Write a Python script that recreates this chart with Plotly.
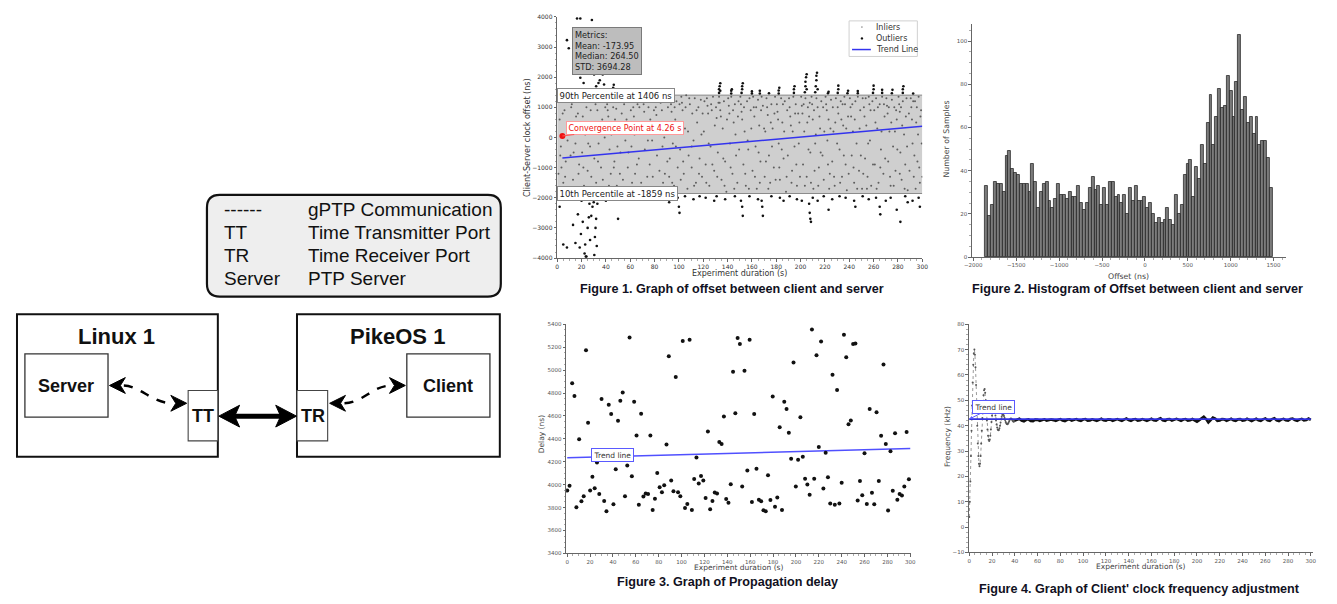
import plotly.graph_objects as go

# The page body keeps an 8px margin, so the figure is sized to fit inside it.
OFF = 8
W, H = 1337 - 2 * OFF, 604 - 2 * OFF


def X(px):
    return (px - OFF) / W


def Y(py):
    return 1 - (py - OFF) / H


# ---------------- Figure 1 data: clock offset (ns) ----------------
inlier_points = [
    (1, -1200), (2, 600), (3, -300), (3.5, -1000), (5, -1500), (6, 900), (7, -800), (8, 300), (9, -1700), (9.5, 1200),
    (10.5, 400), (11, -600), (12, 1100), (13, -1400), (14, 200), (15, -200), (16, -1800), (17, 800), (18, -900), (19, 1300),
    (20.5, -500), (21, 700), (22, -1600), (23, 100), (24, 1000), (25, -1100), (26, 500), (27, -300), (28, -1300), (29, 1200),
    (30.5, -700), (31, 300), (32, -1500), (33, 900), (34, -200), (35, 1300), (36, -1000), (37, 600), (38, -1700), (39, 0),
    (40.5, 1350), (41, 1100), (41.5, 900), (42, 700), (43, -400), (44, -1200), (45, 400), (46, 1000), (47, -800), (48, 1200), (48.5, 950), (49, -1600),
    (50.5, 200), (51, 1300), (52, -500), (53, 800), (54, -1400), (55, 1100), (56, -100), (57, 600), (58, -1000), (59, 1250), (59.5, -1800),
    (60.5, 900), (61, -300), (62, 1300), (62.5, 1000), (63, 700), (64, -1200), (65, 200), (66, 1100), (67, -700), (68, 500), (69, -1500),
    (70.5, 1350), (71, 1100), (71.5, 850), (72, -400), (73, 300), (74, -1300), (75, 1000), (76, -900), (77, 1200), (78, -100), (79, -1700),
    (80.5, 1300), (81, 1000), (81.5, 750), (82, -600), (83, 400), (84, -1100), (85, 1150), (86, 900), (87, -1500), (88, 0), (89, 1250),
    (90.5, -800), (91, 1000), (92, -1300), (93, 1300), (93.5, 1100), (94, 850), (95, -200), (96, -1600), (97, 600), (98, 1200), (99, -1000),
    (100.5, 1100), (101, -400), (102, 1350), (102.5, 1150), (103, 900), (104, -1200), (105, 300), (106, 1400), (107, -1700), (108, -600), (109, 1100),
    (110.5, -1000), (111, 800), (112, -100), (113, 1300), (114, -1500), (115, 500), (116, 1000), (117, -700), (118, 1250), (119, -1300),
    (120.5, 200), (121, 1200), (122, -900), (123, 1300), (123.5, 1050), (124, 800), (125, -1600), (126, -300), (127, 900), (128, 1350), (129, -1100),
    (130.5, 1000), (131, 650), (132, -500), (133, 1350), (133.5, 1150), (134, 900), (134.5, 700), (135, -1400), (136, 300), (137, 1200), (138, -800), (139, -1800),
    (140.5, 1300), (141, 1050), (141.5, 800), (142, -200), (143, 1350), (144, -1200), (145, 500), (146, 1100), (147, -600), (148, -1500), (149, 1200),
    (150.5, 1350), (151, 1100), (151.5, 850), (152, 600), (153, -900), (154, 200), (155, -1600), (156, 1200), (157, -400), (158, 1300), (159, 900),
    (160.5, -1100), (161, 1350), (161.5, 1000), (162, 700), (163, -300), (164, -1700), (165, 1250), (166, 400), (167, -800), (168, 1350), (169, 1050),
    (170.5, -1300), (171, 200), (172, 1300), (172.5, 1000), (173, 750), (174, -600), (175, -1500), (176, 1100), (177, 300), (178, -1000), (179, 1350),
    (180.5, 1100), (181, 850), (182, -200), (183, -1400), (184, 1300), (185, 500), (186, -700), (187, 1200), (188, -1800), (189, 900),
    (190.5, 1300), (191, 1000), (191.5, 700), (192, 400), (193, -1100), (194, 1350), (195, -300), (196, 1100), (197, -1600), (198, 800), (199, 500),
    (200.5, 1350), (201, 1050), (201.5, 800), (202, -900), (203, 200), (204, 1300), (205, -1300), (206, 1000), (207, 700), (208, -500), (209, 1350), (209.5, 1100),
    (210.5, -1700), (211, 900), (212, -200), (213, 1300), (214, 1000), (215, -1000), (216, 300), (217, 1200), (218, -600), (219, -1400),
    (220.5, 1350), (221, 1100), (221.5, 900), (222, -100), (223, 600), (224, -1200), (225, 1250), (226, -800), (227, 200), (228, -1600), (229, 1300),
    (230.5, 1000), (231, 800), (232, -400), (233, 1200), (234, -1300), (235, 400), (236, 1350), (236.5, 1100), (237, -900), (238, -1750), (239, 700),
    (240.5, 1300), (241, 1000), (241.5, 700), (242, -600), (243, 200), (244, -1500), (245, 1200), (246, -200), (247, 1350), (248, -1100), (249, 900),
    (250.5, -1700), (251, 1300), (252, 1000), (253, -700), (254, 400), (255, -1300), (256, 1350), (256.5, 1100), (257, -100), (258, -1600), (259, 1200),
    (260.5, 900), (261, -900), (262, 1300), (263, 300), (264, -1500), (265, 1100), (266, -400), (267, 1350), (268, -1200), (269, 700),
    (270.5, 1300), (271, 1050), (271.5, 800), (272, -800), (273, 200), (274, -1600), (275, 1250), (276, -300), (277, 1000), (278, -1100), (279, 600),
    (280.5, 1350), (281, 1100), (281.5, 850), (282, -500), (283, -1400), (284, 1200), (285, 100), (286, -900), (287, 1300), (288, -1750), (289, 800),
    (290.5, 1300), (291, 1000), (292, -200), (293, -1300), (294, 1200), (295, 500), (296, -800), (297, 1350), (298, -1500), (299, 900), (299.5, -200),
    (2.5, -600), (4.5, 800), (6.5, -1300), (8.5, -100), (11.5, 1000), (13.5, -500), (15.5, 700), (17.5, -1200), (19.5, 300), (21.5, -1000),
    (23.5, 1200), (25.5, -200), (27.5, 900), (29.5, -1700), (31.5, 1100), (33.5, -800), (35.5, 200), (37.5, -1400), (39.5, 1000), (42.5, -1600),
    (44.5, 100), (46.5, -1000), (47.5, 600), (49.5, -300), (51.5, -1200), (53.5, 300), (55.5, -1700), (57.5, 1200), (58.5, -500), (61.5, -1500),
    (63.5, 100), (65.5, -900), (67.5, 1000), (69.5, 300), (72.5, 1200), (74.5, -100), (76.5, 600), (78.5, -1300), (79.5, 900), (82.5, -1700),
    (84.5, 200), (86.5, -300), (88.5, -1200), (91.5, 500), (92.5, -700), (94.5, -1500), (96.5, 1000), (97.5, -300), (99.5, 300), (101.5, -1400),
    (103.5, -800), (105.5, 1000), (107.5, 200), (108.5, 1300), (110.5, -300), (112.5, -1600), (114.5, 900), (116.5, -1200), (118.5, 100), (119.5, 800),
    (122.5, -1500), (124.5, -200), (126.5, 1100), (127.5, -900), (129.5, 400), (131.5, -1300), (132.5, 1150), (136.5, -700), (137.5, -1600), (139.5, 600),
    (142.5, -1000), (144.5, 900), (145.5, -1700), (146.5, 100), (148.5, 700), (149.5, -400), (153.5, 1000), (154.5, -1200), (156.5, -100), (157.5, -1700),
    (159.5, 300), (162.5, -1300), (163.5, 1000), (165.5, -500), (166.5, -1500), (167.5, 900), (170, 300), (171.5, -800), (173.5, -1700), (175.5, 500),
    (176.5, -300), (178.5, 800), (179.5, -1400), (181.5, 600), (182.5, -1000), (184.5, -400), (185.5, 1100), (186.5, 200), (188.5, -1300), (189.5, -600),
    (192.5, -1500), (193.5, 200), (195.5, 800), (196.5, -900), (198.5, -200), (199.5, -1300), (202.5, 1100), (203.5, -1600), (205.5, 500), (206.5, -400),
    (207.5, 1150), (208.5, -1500), (210, 600), (211.5, -1100), (212.5, 100), (214.5, -1600), (215.5, 700), (216.5, -500), (218.5, 1000), (219.5, 200),
    (222.5, -900), (223.5, -1700), (224.5, 300), (226.5, 1000), (227.5, -1300), (228.5, 500), (230, -200), (232.5, -1500), (233.5, 600), (234.5, 1100),
    (235.5, -600), (237.5, 300), (239.5, -1200), (242.5, 1100), (243.5, -1000), (244.5, 600), (246.5, -1700), (248.5, 300), (249.5, -600), (251.5, -1200),
    (252.5, 700), (253.5, 1300), (254.5, -1700), (255.5, -200), (257.5, 900), (259.5, -900), (261.5, 500), (262.5, -1700), (263.5, 1000), (265.5, -1000),
    (266.5, 200), (268.5, 1100), (269.5, -700), (272.5, 1000), (273.5, -1300), (274.5, 500), (276.5, -1600), (277.5, 200), (278.5, 900), (279.5, -400),
    (281.5, -1200), (282.5, 1000), (283.5, 400), (285.5, -1700), (286.5, 700), (287.5, -300), (289.5, -1100), (291.5, 600), (292.5, 1200), (293.5, -600),
    (294.5, -1700), (295.5, 1000), (296.5, 100), (297.5, -1000), (298.5, 700), (300, -1300),
]

outlier_points = [
    (8, 3230), (9.5, 2960), (13.5, 2140), (16.3, 3950), (17.6, 2140), (19, 3950), (19, 1980), (21.7, 1810), (25.7, 2360),
    (27.6, 2140), (28.5, 3900), (29.3, 2630), (30.3, 2090), (33.9, 1810), (36, 2690), (36.6, 2410), (37.4, 2090), (38.5, 1760),
    (35, 1900), (31, 2400), (24, 2200), (32, 1700),
    (46, 1500), (46, 1650), (46.5, 1750),
    (133, 1480), (133, 1600), (133.5, 1700), (134, 1800), (134, 1550),
    (143, 1460), (143, 1550), (143.5, 1600),
    (151.5, 1480), (152, 1600), (152, 1700), (152.5, 1800),
    (160, 1460), (160, 1530), (166.5, 1460), (166.5, 1550), (174, 1470),
    (182, 1460), (182, 1560), (182.5, 1650),
    (194.5, 1480), (194.5, 1600), (195, 1700),
    (203.5, 1500), (204, 1700), (204, 1850), (204.5, 2000), (205, 2100), (205, 1600),
    (212, 1500), (212.5, 1700), (213, 1900), (213, 2050), (213.5, 2150), (214, 1600),
    (222.5, 1470), (223, 1520), (230.5, 1480), (231, 1600), (231, 1720),
    (238.5, 1470), (239, 1550), (247, 1470), (247, 1540),
    (259.5, 1480), (260, 1600), (260, 1720), (267, 1480), (267, 1580),
    (275, 1470), (275.5, 1580), (284, 1480), (284, 1600), (284.5, 1700), (292.5, 1460),
    (2, -2300), (5, -3550), (8, -3650), (13, -2900), (15, -3500), (17, -2550), (18.5, -3650), (19.5, -3200), (21, -2800),
    (22.5, -3850), (23, -3550), (24, -3950), (25, -3000), (26, -2650), (27, -3400), (29, -2300), (30, -2150), (31, -3300),
    (31.5, -3000), (32, -2700), (33, -2200), (34, -2000), (35, -1950), (36.5, -2050), (32.5, -3600), (30.5, -3900),
    (20, -2100), (26.5, -2200), (23.5, -3950), (28, -2600),
    (40, -2100), (42, -1950), (45, -2000), (50, -2700), (55, -1950), (60, -2050), (66, -1950), (72, -2000), (80, -1950),
    (86, -2050), (90, -1950), (92, -2150), (99, -2000), (100, -2300), (100.5, -2500), (105, -1950), (112, -2050),
    (117, -1950), (122, -2000), (129, -2100), (131, -1950), (138, -2050), (146, -1950), (151, -2100), (152, -2300),
    (152.5, -2600), (158, -1950), (165, -2050), (168, -2100), (168.5, -2300), (169, -2600), (176, -1950), (183, -2000),
    (186, -2100), (191, -1950), (197, -2050), (201, -2100), (207, -2200), (207.5, -2500), (208, -2700), (208.5, -2800),
    (210, -2000), (214, -2100), (219, -1950), (223, -2400), (226, -2050), (232, -1950), (237, -2000), (244, -2100),
    (245, -2300), (251, -1950), (256, -2050), (262, -2000), (265, -2300), (265.5, -2550), (270, -2100), (274, -2000),
    (279, -2400), (282, -2800), (286, -1950), (288, -2150), (292, -2100), (297, -2000), (298, -2300),
]

inlier_t = [p[0] for p in inlier_points]
inlier_ns = [p[1] for p in inlier_points]
outlier_t = [p[0] for p in outlier_points]
outlier_ns = [p[1] for p in outlier_points]

trend1_t = [4.26, 300]
trend1_ns = [-680, 370]
convergence_t = [4.26]
convergence_ns = [50]
p90 = 1406
p10 = -1859

# ---------------- Figure 2 data: histogram ----------------
hist_counts = [
    33, 19, 24, 35, 34, 34, 30, 47, 49, 41,
    39, 38, 34, 34, 34, 30, 43, 35, 23, 30,
    34, 35, 26, 23, 27, 34, 29, 29, 27, 30,
    28, 28, 33, 25, 22, 25, 32, 37, 31, 33,
    24, 32, 24, 35, 35, 28, 29, 25, 29, 20,
    32, 26, 33, 26, 26, 28, 23, 25, 20, 16,
    18, 16, 17, 23, 17, 15, 29, 20, 24, 38,
    43, 45, 28, 42, 36, 52, 43, 62, 75, 52,
    65, 78, 69, 70, 84, 77, 65, 81, 103, 68,
    74, 62, 65, 57, 65, 52, 54, 54, 46, 32,
]
hist_start = -1862
hist_bin = 33.5
hist_x = [hist_start + hist_bin * (i + 0.5) for i in range(len(hist_counts))]

# ---------------- Figure 3 data: propagation delay ----------------
delay_t = [0, 2, 4.3, 6.3, 8, 10.4, 12.4, 14.4, 16.4, 18.2,
           20, 22, 24, 26, 28, 30, 32.3, 34.3, 36.3, 38.4,
           40.4, 42.4, 44.4, 46.4, 48.5, 50.5, 52.5, 54.5, 56.5, 58.5,
           60.6, 62.6, 64.6, 66.6, 68.6, 70.7, 72.7, 74.7, 76.7, 78.7,
           80.8, 82.8, 84.8, 86.8, 88.8, 90.9, 92.9, 94.9, 96.9, 98.9,
           101, 103, 105, 107, 109, 111, 113, 115, 117, 119,
           121, 123, 125, 127, 129, 131, 133, 135, 137, 139,
           141, 143, 145, 147, 149, 151, 153, 155, 157.5, 159.5,
           161.5, 163.5, 165.5, 167.6, 169.6, 171.6, 173.6, 175.6, 177.7, 179.7,
           181.7, 183.7, 185.8, 187.8, 189.8, 191.8, 193.8, 195.8, 197.9, 199.9,
           201.9, 203.9, 206, 208, 210, 212, 214, 216, 218, 220,
           222, 224, 226, 228, 230, 232, 234, 236, 238, 240,
           242, 244, 246, 248, 250, 252, 254, 256, 258, 260,
           262, 264.5, 266.5, 268.5, 270.5, 272.5, 274.5, 276.6, 278.6, 280.6,
           282.7, 284.7, 286.7, 288.7, 290.7, 292.7, 294.8, 296.8, 298.8]
delay_ns = [3950, 3990, 4885, 4775, 3803, 4396, 3855, 3900, 5173, 4540,
            3950, 4070, 3970, 4194, 3920, 4747, 3857, 3768, 4698, 4617,
            3829, 4134, 4557, 4732, 4804, 3900, 4168, 5285, 4073, 4724,
            4430, 3826, 4620, 3898, 3924, 3918, 4430, 3780, 3877, 4102,
            3978, 3935, 3995, 4350, 5121, 4036, 3944, 4940, 3935, 3900,
            5253, 3797, 3832, 5265, 3780, 4050, 4237, 4010, 4076, 4036,
            3883, 4465, 3785, 3857, 3932, 3924, 4373, 4355, 4594, 3875,
            3843, 4004, 4986, 4623, 5279, 5227, 3984, 4994, 4125, 5265,
            3849, 4617, 4140, 3869, 3855, 3777, 3768, 4082, 3866, 4770,
            3808, 3889, 4502, 3780, 4724, 4660, 4453, 4226, 5066, 3984,
            4217, 4588, 4243, 4053, 4001, 3912, 5354, 4053, 5130, 4329,
            5250, 3967, 4278, 4064, 3837, 4960, 3826, 4827, 3837, 4018,
            5308, 5112, 4528, 4560, 5227, 5233, 3863, 4033, 3909, 4275,
            3832, 4660, 3929, 3829, 4632, 4033, 4427, 5049, 4355, 3774,
            4292, 3947, 4450, 3869, 3918, 3906, 3984, 4459, 4047]
trend3_t = [0, 300]
trend3_ns = [4235, 4315]

# ---------------- Figure 4 data: frequency adjustment ----------------
freq_early = [4, 10, 18, 28, 38, 48, 57, 64, 68.5, 70,
              68, 63, 56, 48, 40, 33, 28, 25, 24, 25,
              28, 33, 38, 43, 48, 52, 54, 54.5, 53, 50,
              46, 42, 38.5, 36, 34.5, 34, 34.5, 36, 38.5, 41.5,
              44, 46, 47.5, 48, 47.5, 46, 44, 42, 40.5, 39.3,
              38.5, 38.2, 38.3, 39, 40, 41.3, 42.5, 43.5, 44.2, 44.5,
              44.3, 43.8, 43, 42.2, 41.5, 41, 40.7, 40.6, 40.8, 41.2,
              41.7, 42.2, 42.6, 42.8, 42.7, 42.4, 42, 41.7, 41.6, 41.7,
              42]
freq_late = [42.3, 42.7, 42.0, 41.7, 42.3, 42.5, 41.9, 41.8, 42.4, 42.3,
             41.9, 42.2, 42.5, 42.0, 42.1, 42.4, 42.2, 41.9, 42.3, 42.6,
             42.0, 41.8, 42.3, 42.5, 42.0, 42.2, 42.6, 42.1, 41.9, 42.4,
             42.6, 42.0, 42.1, 42.5, 42.3, 41.9, 42.3, 42.7, 42.1, 42.0,
             42.5, 42.4, 41.9, 42.2, 42.6, 42.2, 41.9, 42.4, 42.8, 42.2,
             41.9, 42.4, 42.6, 42.0, 42.1, 42.6, 42.4, 41.9, 42.3, 42.7,
             42.1, 42.0, 42.6, 42.9, 42.1, 41.9, 42.5, 42.6, 42.0, 42.2,
             42.7, 42.3, 41.9, 42.4, 42.6, 42.0, 42.1, 42.6, 42.2, 41.6,
             42.2, 43.0, 43.5, 42.6, 41.3, 42.2, 43.2, 42.8, 41.9, 42.0,
             42.6, 42.5, 41.9, 42.3, 42.7, 42.1, 41.9, 42.5, 42.6, 42.0,
             42.1, 42.7, 42.3, 41.8, 42.3, 42.7, 42.1, 41.9, 42.5, 42.8,
             42.1, 41.9, 42.6, 42.9, 42.1, 41.8, 42.4, 42.7, 42.1, 42.0,
             42.6, 42.8, 42.2, 41.9, 42.4, 42.7, 42.1, 42.2, 42.8, 42.3]
freq_t_early = [i * 0.5 for i in range(len(freq_early))]
freq_t_late = [40] + [42 + 2 * i for i in range(len(freq_late))]
trend4_t = [0, 300]
trend4_khz = [42.6, 42.6]

# ---------------- text ----------------
captions = [
    "Figure 1. Graph of offset between client and server",
    "Figure 2. Histogram of Offset between client and server",
    "Figure 3. Graph of Propagation delay",
    "Figure 4. Graph of Client' clock frequency adjustment",
]
legend_keys = ["------", "TT", "TR", "Server"]
legend_desc = ["gPTP Communication", "Time Transmitter Port", "Time Receiver Port", "PTP Server"]

PF = "DejaVu Sans"
CF = "Liberation Sans"

fig = go.Figure()

# Figure 1 traces
fig.add_trace(go.Scatter(x=inlier_t, y=inlier_ns, mode="markers", xaxis="x", yaxis="y",
                         marker=dict(size=2, color="#5e5e5e"), showlegend=False, hoverinfo="skip"))
fig.add_trace(go.Scatter(x=outlier_t, y=outlier_ns, mode="markers", xaxis="x", yaxis="y",
                         marker=dict(size=2.6, color="#111111"), showlegend=False, hoverinfo="skip"))
fig.add_trace(go.Scatter(x=trend1_t, y=trend1_ns, mode="lines", xaxis="x", yaxis="y",
                         line=dict(color="#3333ee", width=1.5), showlegend=False))
fig.add_trace(go.Scatter(x=convergence_t, y=convergence_ns, mode="markers", xaxis="x", yaxis="y",
                         marker=dict(size=6, color="#ee1111"), showlegend=False))

# Figure 2
fig.add_trace(go.Bar(x=hist_x, y=hist_counts, width=hist_bin, xaxis="x2", yaxis="y2",
                     marker=dict(color="#7c7c7c", line=dict(color="#1a1a1a", width=0.7)), showlegend=False))

# Figure 3
fig.add_trace(go.Scatter(x=trend3_t, y=trend3_ns, mode="lines", xaxis="x3", yaxis="y3",
                         line=dict(color="#5050ff", width=1.5), showlegend=False))
fig.add_trace(go.Scatter(x=delay_t, y=delay_ns, mode="markers", xaxis="x3", yaxis="y3",
                         marker=dict(size=4, color="#111111"), showlegend=False))

# Figure 4
fig.add_trace(go.Scatter(x=freq_t_early, y=freq_early, mode="lines+markers", xaxis="x4", yaxis="y4",
                         line=dict(color="#9a9a9a", width=1, dash="dot"),
                         marker=dict(size=2, color="#555555"), showlegend=False))
fig.add_trace(go.Scatter(x=freq_t_late, y=[freq_early[-1]] + freq_late, mode="lines", xaxis="x4", yaxis="y4",
                         line=dict(color="#111111", width=2.6), showlegend=False))
fig.add_trace(go.Scatter(x=trend4_t, y=trend4_khz, mode="lines", xaxis="x4", yaxis="y4",
                         line=dict(color="#3030e0", width=1.6), showlegend=False))


def axis(dom, rng, dtick, fs, color="#333", tick0=None):
    d = dict(domain=dom, range=rng, dtick=dtick, showline=True, linecolor="#666", linewidth=1,
             ticks="outside", ticklen=2.5, tickwidth=0.8, tickcolor="#666", showgrid=False, zeroline=False,
             tickfont=dict(family=PF, size=fs, color=color),
             minor=dict(ticks="outside", ticklen=1.5, tickcolor="#aaa", showgrid=False))
    if tick0 is not None:
        d["tick0"] = tick0
    return d


fig.update_layout(
    width=W, height=H, margin=dict(l=0, r=0, t=0, b=0),
    paper_bgcolor="white", plot_bgcolor="white", showlegend=False,
    xaxis=dict(axis([X(555), X(924)], [0, 300], 20, 6), anchor="y"),
    yaxis=dict(axis([Y(257), Y(13)], [-4000, 4000], 1000, 6), anchor="x"),
    xaxis2=dict(axis([X(974), X(1292)], [-2018, 1649], 500, 5.5, "#555", 0), anchor="y2"),
    yaxis2=dict(axis([Y(256), Y(20)], [0, 108], 20, 5.5, "#555"), anchor="x2"),
    xaxis3=dict(axis([X(564), X(913)], [-1, 301], 20, 5.5, "#555"), anchor="y3"),
    yaxis3=dict(axis([Y(556), Y(324)], [3400, 5400], 200, 5.5, "#555"), anchor="x3"),
    xaxis4=dict(axis([X(971), X(1319)], [-0.4, 302], 20, 5.5, "#555"), anchor="y4"),
    yaxis4=dict(axis([Y(555), Y(324)], [-10, 80], 10, 5.5, "#555"), anchor="x4"),
    bargap=0,
)

shapes = []
ann = []

# Figure 1 band
shapes.append(dict(type="rect", xref="x", yref="y", x0=0, x1=300, y0=p10, y1=p90,
                   fillcolor="#cfcfcf", line=dict(width=0), layer="below"))
for yv in (p90, p10):
    shapes.append(dict(type="line", xref="x", yref="y", x0=0, x1=300, y0=yv, y1=yv,
                       line=dict(color="#8c8c8c", width=1), layer="below"))

ann.append(dict(xref="paper", yref="y", x=X(555), y=p90, xanchor="left", yanchor="middle",
                text="90th Percentile at 1406 ns", showarrow=False, bgcolor="white",
                bordercolor="#888", borderwidth=1, borderpad=1.5, font=dict(family=PF, size=8.5, color="#222")))
ann.append(dict(xref="paper", yref="y", x=X(555), y=p10, xanchor="left", yanchor="middle",
                text="10th Percentile at -1859 ns", showarrow=False, bgcolor="white",
                bordercolor="#888", borderwidth=1, borderpad=1.5, font=dict(family=PF, size=8.5, color="#222")))
ann.append(dict(xref="paper", yref="paper", x=X(570), y=Y(23), xanchor="left", yanchor="top", align="left",
                text="Metrics:<br>Mean: -173.95<br>Median: 264.50<br>STD: 3694.28", showarrow=False,
                bgcolor="#bdbdbd", bordercolor="#7a7a7a", borderwidth=1, borderpad=2,
                font=dict(family=PF, size=8.2, color="#222")))
ann.append(dict(xref="x", yref="y", x=convergence_t[0], y=convergence_ns[0], ax=63, ay=-8,
                text="Convergence Point at 4.26 s", showarrow=True, arrowhead=0, arrowwidth=1.2,
                arrowcolor="#ff5555", bgcolor="white", bordercolor="#ff9a9a", borderwidth=1, borderpad=1.5,
                font=dict(family=PF, size=8, color="#ee1111")))

# Figure 1 legend (manual)
shapes.append(dict(type="rect", xref="paper", yref="paper", x0=X(850), x1=X(919), y0=Y(53), y1=Y(17),
                   fillcolor="white", line=dict(color="#d0d0d0", width=1)))
shapes.append(dict(type="circle", xref="paper", yref="paper", x0=X(862.2), x1=X(863.8), y0=Y(24.1), y1=Y(22.5),
                   fillcolor="#888", line=dict(width=0)))
shapes.append(dict(type="circle", xref="paper", yref="paper", x0=X(861.8), x1=X(864.2), y0=Y(35.9), y1=Y(33.5),
                   fillcolor="#111", line=dict(width=0)))
shapes.append(dict(type="line", xref="paper", yref="paper", x0=X(853), x1=X(872), y0=Y(46), y1=Y(46),
                   line=dict(color="#3333ee", width=1.5)))
for txt, yy in (("Inliers", 23.3), ("Outliers", 34.7), ("Trend Line", 46)):
    ann.append(dict(xref="paper", yref="paper", x=X(875), y=Y(yy), xanchor="left", yanchor="middle",
                    text=txt, showarrow=False, font=dict(family=PF, size=8, color="#333")))

# Figure 3 / 4 trend annotations
ann.append(dict(xref="x3", yref="y3", x=40, y=4262, text="Trend line", showarrow=False,
                bgcolor="white", bordercolor="#5a5aff", borderwidth=1, borderpad=1.5,
                font=dict(family=PF, size=7.5, color="#333")))
ann.append(dict(xref="x4", yref="y4", x=0, y=42.6, ax=24, ay=-12, text="Trend line", showarrow=True,
                arrowhead=2, arrowsize=0.7, arrowwidth=1, arrowcolor="#5a5aff",
                bgcolor="white", bordercolor="#5a5aff", borderwidth=1, borderpad=1.5,
                font=dict(family=PF, size=7.5, color="#333")))


# axis titles
def atitle(x, y, text, rot=0, size=8, color="#333"):
    ann.append(dict(xref="paper", yref="paper", x=X(x), y=Y(y), text=text, showarrow=False,
                    textangle=rot, xanchor="center", yanchor="middle",
                    font=dict(family=PF, size=size, color=color)))


atitle(525, 135, "Client-Server clock offset (ns)", -90)
atitle(739, 272.5, "Experiment duration (s)")
atitle(948, 137, "Number of Samples", -90, 7.8, "#444")
atitle(1132, 275.5, "Offset (ns)", 0, 7.8, "#444")
atitle(540, 435, "Delay (ns)", -90, 7.5, "#444")
atitle(738, 570, "Experiment duration (s)", 0, 7.5, "#444")
atitle(950, 438, "Frequency (kHz)", -90, 7.5, "#444")
atitle(1145, 569.5, "Experiment duration (s)", 0, 7.5, "#444")

# captions
for (cx, cy), txt in zip([(732, 288), (1142, 288), (727.5, 585), (1144, 591.5)], captions):
    ann.append(dict(xref="paper", yref="paper", x=X(cx), y=Y(cy), text="<b>" + txt + "</b>",
                    showarrow=False, xanchor="center", yanchor="middle",
                    font=dict(family=CF, size=12.6, color="#111122")))


# ---------------- diagram ----------------
def pt(x, y):
    return f"{X(x):.6f},{Y(y):.6f}"


def poly(points):
    return "M " + " L ".join(pt(x, y) for x, y in points) + " Z"


def rrect(x0, y0, x1, y1, r):
    return ("M " + pt(x0 + r, y0) + " L " + pt(x1 - r, y0) + " Q " + pt(x1, y0) + " " + pt(x1, y0 + r) +
            " L " + pt(x1, y1 - r) + " Q " + pt(x1, y1) + " " + pt(x1 - r, y1) +
            " L " + pt(x0 + r, y1) + " Q " + pt(x0, y1) + " " + pt(x0, y1 - r) +
            " L " + pt(x0, y0 + r) + " Q " + pt(x0, y0) + " " + pt(x0 + r, y0) + " Z")


def head(tx, ty, direction, L, Wd, d):
    s = 1 if direction == "left" else -1
    return poly([(tx, ty), (tx + s * L, ty - Wd), (tx + s * (L - d), ty), (tx + s * L, ty + Wd)])


def box(x0, y0, x1, y1, lw, color="#111"):
    shapes.append(dict(type="rect", xref="paper", yref="paper", x0=X(x0), x1=X(x1), y0=Y(y1), y1=Y(y0),
                       fillcolor="white", line=dict(color=color, width=lw)))


shapes.append(dict(type="path", xref="paper", yref="paper", path=rrect(201, 193, 498, 296, 13),
                   fillcolor="#eeeeee", line=dict(color="#111", width=2.2)))
for i, (k, dsc) in enumerate(zip(legend_keys, legend_desc)):
    yy = [208, 231, 254, 278][i]
    ann.append(dict(xref="paper", yref="paper", x=X(216), y=Y(yy), text=k, showarrow=False,
                    xanchor="left", yanchor="middle", font=dict(family=CF, size=19, color="#111")))
    ann.append(dict(xref="paper", yref="paper", x=X(301), y=Y(yy), text=dsc, showarrow=False,
                    xanchor="left", yanchor="middle", font=dict(family=CF, size=19, color="#111")))

box(9, 314, 212, 458, 2)
box(292, 314, 497, 458, 2)
box(17, 354, 101, 418, 1.3, "#333")
box(403, 354, 487, 418, 1.3, "#333")
box(182, 391, 212, 442, 1.1, "#444")
box(292, 391, 323, 442, 1.1, "#444")

for x, y, t, s in ((110, 336, "Linux 1", 22), (394, 336, "PikeOS 1", 22), (59, 386, "Server", 18),
                   (445, 386, "Client", 18), (197, 417, "TT", 18), (308, 417, "TR", 18)):
    ann.append(dict(xref="paper", yref="paper", x=X(x), y=Y(y), text="<b>" + t + "</b>", showarrow=False,
                    xanchor="center", yanchor="middle", font=dict(family=CF, size=s, color="#111")))

# thick double arrow
shapes.append(dict(type="line", xref="paper", yref="paper", x0=X(228), x1=X(277), y0=Y(417), y1=Y(417),
                   line=dict(color="#000", width=5)))
shapes.append(dict(type="path", xref="paper", yref="paper", path=head(213, 417, "left", 21, 11, 5),
                   fillcolor="#000", line=dict(color="#000", width=1)))
shapes.append(dict(type="path", xref="paper", yref="paper", path=head(291.5, 417, "right", 21, 11, 5),
                   fillcolor="#000", line=dict(color="#000", width=1)))

# dashed curved arrows
shapes.append(dict(type="path", xref="paper", yref="paper",
                   path="M " + pt(117, 386) + " C " + pt(135, 387) + " " + pt(145, 404) + " " + pt(167, 404),
                   line=dict(color="#000", width=2.5, dash="dash")))
shapes.append(dict(type="path", xref="paper", yref="paper",
                   path="M " + pt(340, 404) + " C " + pt(360, 403) + " " + pt(368, 386) + " " + pt(388, 386),
                   line=dict(color="#000", width=2.5, dash="dash")))
for tx, ty, dr in ((102.5, 386, "left"), (180.5, 404, "right"), (325, 404, "left"), (401.5, 386, "right")):
    shapes.append(dict(type="path", xref="paper", yref="paper", path=head(tx, ty, dr, 16, 8, 5),
                       fillcolor="#000", line=dict(color="#000", width=1)))

fig.update_layout(shapes=shapes, annotations=ann)

fig.write_html("out.html", config={"displayModeBar": False})
